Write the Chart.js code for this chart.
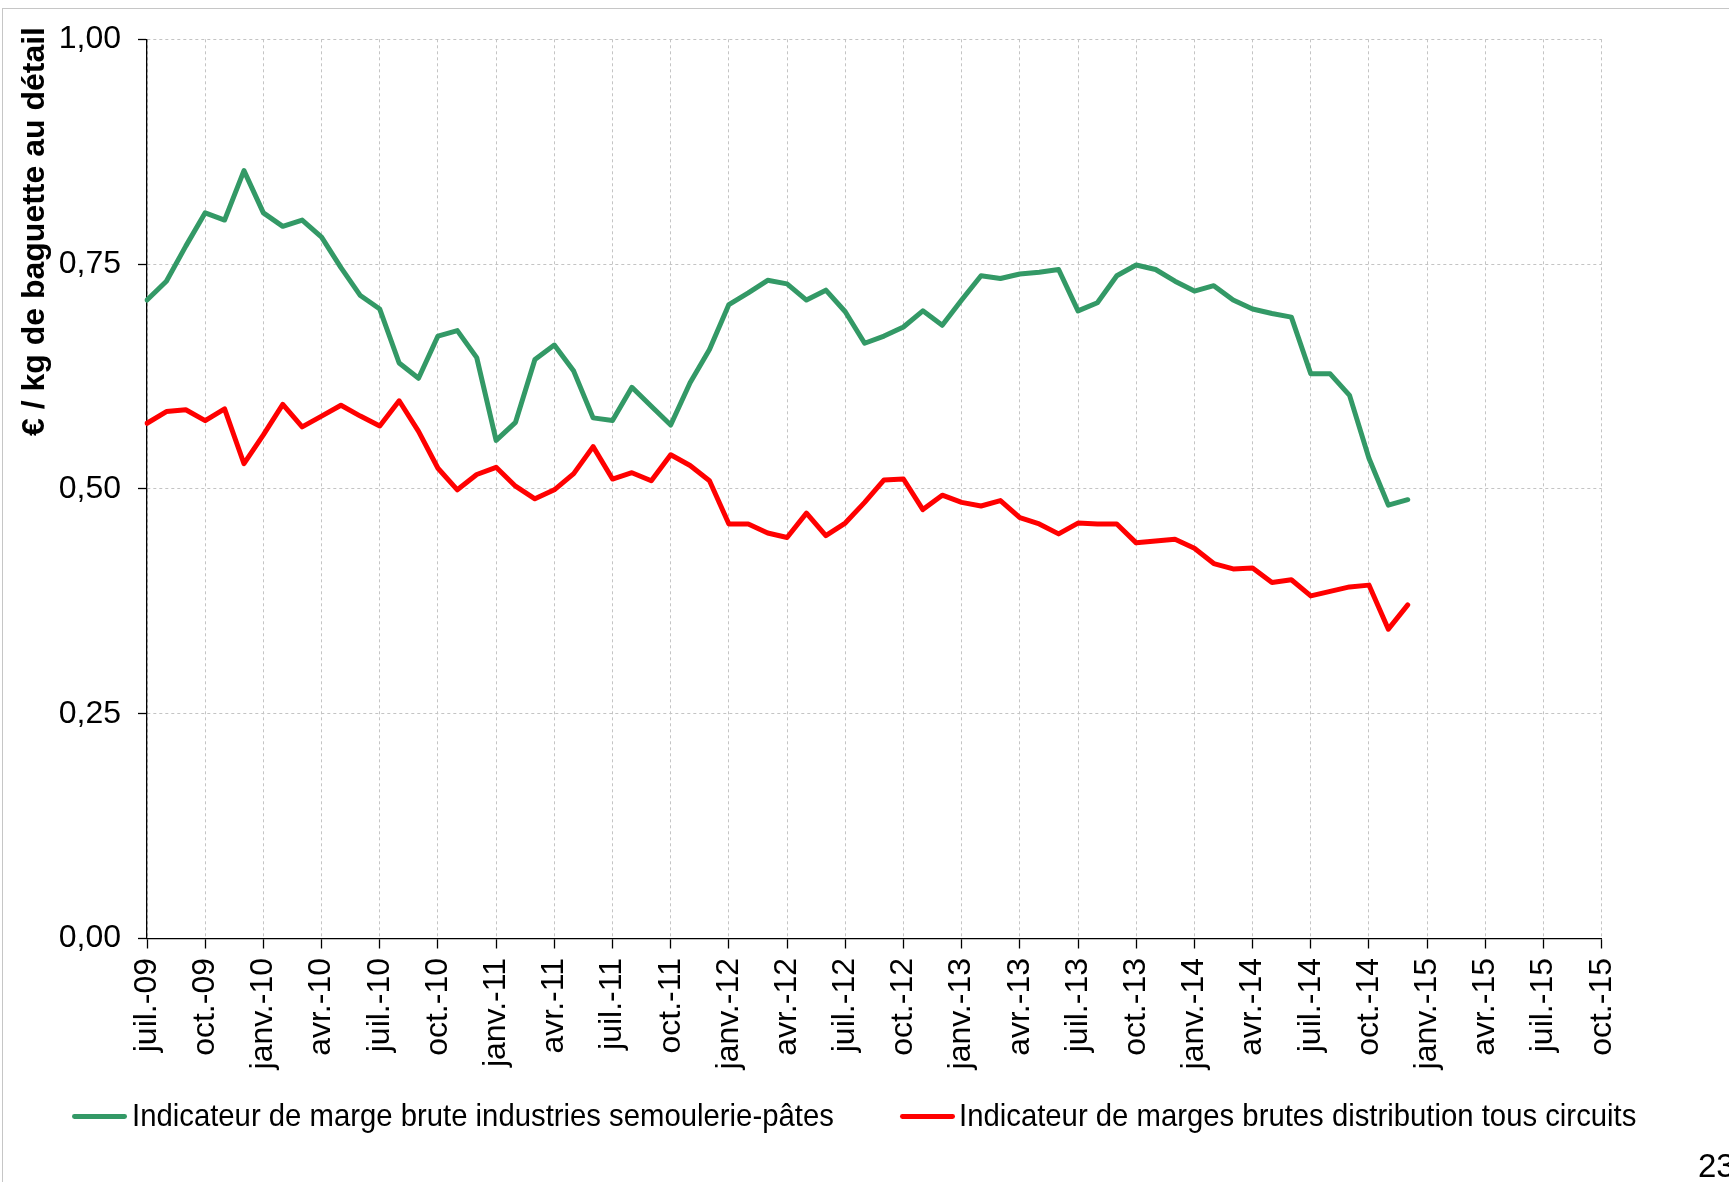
<!DOCTYPE html>
<html>
<head>
<meta charset="utf-8">
<script src="https://cdn.jsdelivr.net/npm/chart.js@4.4.1/dist/chart.umd.min.js"></script>
<style>
  html, body { margin: 0; padding: 0; background: #ffffff; overflow: hidden; }
  #wrap { position: relative; width: 1729px; height: 1182px; overflow: hidden; background: #ffffff; }
  #frame { position: absolute; left: 2px; top: 8px; width: 3000px; height: 3000px; border: 1px solid #c6c6c6; box-sizing: border-box; }
  canvas { position: absolute; left: 0; top: 0; }
  .txt { position: absolute; font-family: "Liberation Sans", Arial, sans-serif; color: #000; white-space: nowrap; }
  #ytitle { left: 17.2px; top: 435.5px; font-size: 32px; line-height: 32px; font-weight: bold; transform-origin: 0 0; transform: rotate(-90deg); }
  .legline { position: absolute; height: 4.8px; border-radius: 2.4px; }
  .legtxt { font-size: 31.5px; line-height: 31.5px; top: 1100px; transform-origin: 0 50%; transform: scaleX(0.93); }
  #page { left: 1698px; top: 1148.5px; font-size: 33px; line-height: 33px; }
</style>
</head>
<body>
<div id="wrap">
  <div id="frame"></div>
  <canvas id="c" width="1729" height="1182"></canvas>
  <div class="txt" id="ytitle">€ / kg de baguette au détail</div>
  <div class="legline" style="left:71.7px; top:1114.3px; width:55.6px; background:#339966;"></div>
  <div class="txt legtxt" id="leg1" style="left:131.7px;"></div>
  <div class="legline" style="left:900px; top:1114.3px; width:54.5px; background:#ff0000;"></div>
  <div class="txt legtxt" id="leg2" style="left:959px;"></div>
  <div class="txt" id="page">23</div>
</div>
<script>
// Monthly categories, juil.-09 to oct.-15
const categories = [
  "juil.-09","août-09","sept.-09","oct.-09","nov.-09","déc.-09",
  "janv.-10","févr.-10","mars-10","avr.-10","mai-10","juin-10","juil.-10","août-10","sept.-10","oct.-10","nov.-10","déc.-10",
  "janv.-11","févr.-11","mars-11","avr.-11","mai-11","juin-11","juil.-11","août-11","sept.-11","oct.-11","nov.-11","déc.-11",
  "janv.-12","févr.-12","mars-12","avr.-12","mai-12","juin-12","juil.-12","août-12","sept.-12","oct.-12","nov.-12","déc.-12",
  "janv.-13","févr.-13","mars-13","avr.-13","mai-13","juin-13","juil.-13","août-13","sept.-13","oct.-13","nov.-13","déc.-13",
  "janv.-14","févr.-14","mars-14","avr.-14","mai-14","juin-14","juil.-14","août-14","sept.-14","oct.-14","nov.-14","déc.-14",
  "janv.-15","févr.-15","mars-15","avr.-15","mai-15","juin-15","juil.-15","août-15","sept.-15","oct.-15"
];

const seriesNames = [
  "Indicateur de marge brute industries semoulerie-pâtes",
  "Indicateur de marges brutes distribution tous circuits"
];

// Indicateur de marge brute industries semoulerie-pâtes (€/kg)
const margeIndustrie = [
  0.710, 0.731, 0.770, 0.807, 0.799, 0.854,
  0.807, 0.792, 0.799, 0.780, 0.746, 0.715, 0.700, 0.640, 0.623, 0.670, 0.676, 0.646,
  0.554, 0.574, 0.644, 0.660, 0.631, 0.579, 0.576, 0.613, 0.592, 0.571, 0.618, 0.655,
  0.705, 0.718, 0.732, 0.728, 0.710, 0.721, 0.697, 0.662, 0.670, 0.680, 0.698, 0.682,
  0.710, 0.737, 0.734, 0.739, 0.741, 0.744, 0.698, 0.707, 0.737, 0.749, 0.744, 0.731,
  0.720, 0.726, 0.710, 0.700, 0.695, 0.691, 0.628, 0.628, 0.604, 0.534, 0.482, 0.488
];

// Indicateur de marges brutes distribution tous circuits (€/kg)
const margeDistribution = [
  0.573, 0.586, 0.588, 0.576, 0.589, 0.528,
  0.560, 0.594, 0.569, 0.581, 0.593, 0.581, 0.570, 0.598, 0.564, 0.523, 0.499, 0.516,
  0.524, 0.503, 0.489, 0.499, 0.517, 0.547, 0.511, 0.518, 0.509, 0.538, 0.526, 0.509,
  0.461, 0.461, 0.451, 0.446, 0.473, 0.448, 0.462, 0.485, 0.510, 0.511, 0.477, 0.493,
  0.485, 0.481, 0.487, 0.468, 0.461, 0.450, 0.462, 0.461, 0.461, 0.440, 0.442, 0.444,
  0.434, 0.417, 0.411, 0.412, 0.396, 0.399, 0.381, 0.386, 0.391, 0.393, 0.344, 0.371
];

const yTickLabels = ["0,00", "0,25", "0,50", "0,75", "1,00"];

const seriesColors = ["#339966", "#ff0000"];

document.getElementById('leg1').textContent = seriesNames[0];
document.getElementById('leg2').textContent = seriesNames[1];

const FONT = "'Liberation Sans', Arial, sans-serif";
const showTick = (i) => i % 3 === 0;

new Chart(document.getElementById('c'), {
  type: 'line',
  data: {
    labels: categories,
    datasets: [
      {
        label: seriesNames[0],
        data: margeIndustrie,
        borderColor: seriesColors[0],
        backgroundColor: seriesColors[0],
        borderWidth: 5,
        pointRadius: 0,
        tension: 0,
        borderJoinStyle: 'round',
        borderCapStyle: 'round'
      },
      {
        label: seriesNames[1],
        data: margeDistribution,
        borderColor: seriesColors[1],
        backgroundColor: seriesColors[1],
        borderWidth: 5,
        pointRadius: 0,
        tension: 0,
        borderJoinStyle: 'round',
        borderCapStyle: 'round'
      }
    ]
  },
  options: {
    responsive: false,
    devicePixelRatio: 1,
    animation: false,
    layout: { padding: { left: 0, right: 127.3, top: 39.3, bottom: 0 } },
    plugins: {
      legend: { display: false },
      tooltip: { enabled: false }
    },
    scales: {
      x: {
        type: 'category',
        offset: false,
        afterFit: (s) => { s.height = 243.5; },
        grid: {
          color: (ctx) => showTick(ctx.index) ? '#c4c4c4' : 'rgba(0,0,0,0)',
          lineWidth: 1,
          tickColor: (ctx) => showTick(ctx.index) ? '#000000' : 'rgba(0,0,0,0)',
          tickLength: 10,
          tickWidth: 1.3,
          tickBorderDash: []
        },
        border: { display: true, color: '#000000', width: 1.3, dash: [3, 3] },
        ticks: {
          autoSkip: false,
          maxRotation: 90,
          minRotation: 90,
          padding: 9.5,
          color: '#000000',
          font: { family: FONT, size: 32 },
          callback: (v, i) => showTick(i) ? categories[i] : ''
        }
      },
      y: {
        min: 0,
        max: 1,
        afterFit: (s) => { s.width = 147; },
        grid: {
          color: '#c4c4c4',
          lineWidth: 1,
          tickColor: '#000000',
          tickLength: 9,
          tickWidth: 1.3,
          tickBorderDash: []
        },
        border: { display: true, color: '#000000', width: 1.3, dash: [3, 3] },
        ticks: {
          stepSize: 0.25,
          padding: 17,
          color: '#000000',
          font: { family: FONT, size: 32 },
          callback: (v, i) => yTickLabels[i]
        }
      }
    }
  }
});
</script>
</body>
</html>
